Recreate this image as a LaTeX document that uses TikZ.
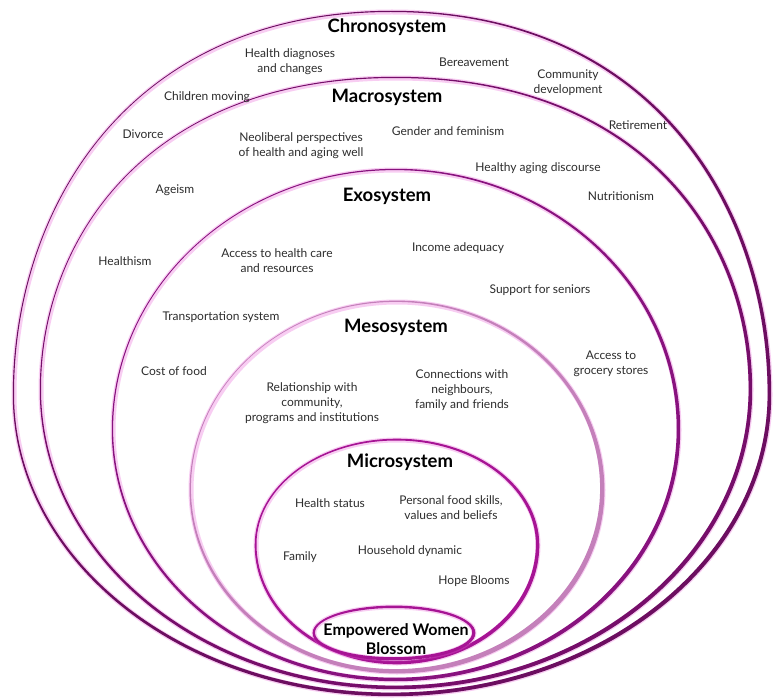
\documentclass[tikz,border=0pt]{standalone}
\usepackage{fontspec}
\setmainfont{Lato}
\definecolor{chrono}{RGB}{108,14,96}
\definecolor{macro}{RGB}{118,14,106}
\definecolor{exo}{RGB}{136,18,126}
\definecolor{meso}{RGB}{196,128,186}
\definecolor{micro}{RGB}{166,20,148}
\definecolor{glow}{RGB}{232,90,215}
\definecolor{txt}{RGB}{45,45,45}
% handle factors of the upper half (0.5523 = ellipse)
\def\ha{0.5523}\def\hb{0.5523}
% egg-shaped closed path: cx, yw (image y of widest line), rx, upper ry, lower ry
\newcommand\eggpath[5]{({#1-(#3)},{-(#2)})
  .. controls ({#1-(#3)},{-(#2)+\hb*(#4)}) and ({#1-\ha*(#3)},{-(#2)+(#4)}) .. ({#1},{-(#2)+(#4)})
  .. controls ({#1+\ha*(#3)},{-(#2)+(#4)}) and ({#1+(#3)},{-(#2)+\hb*(#4)}) .. ({#1+(#3)},{-(#2)})
  arc[start angle=0,end angle=-180,x radius={#3},y radius={#5}] -- cycle}
% ring: cx, yw, rx, ryU, ryL, colour, width, shift (thin upper-left, thick lower-right)
\newcommand\ring[8]{%
  \draw[glow, line width=5, opacity=.3] \eggpath{#1}{#2}{#3}{#4}{#5};
  \fill[#6, even odd rule] \eggpath{#1}{#2}{#3+#7/2}{#4+#7/2}{#5+#7/2}
    \eggpath{#1-#8}{#2-#8}{#3-#7/2}{#4-#7/2}{#5-#7/2};}
\tikzset{
  item/.style={text=txt, align=center, inner sep=0pt, font=\fontsize{12}{15}\selectfont},
  sysname/.style={text=black, inner sep=0pt, font=\bfseries\fontsize{18.5}{20}\selectfont},
  core/.style={text=black, align=center, inner sep=0pt, font=\bfseries\fontsize{16}{18.5}\selectfont}
}
\begin{document}
\begin{tikzpicture}[x=1pt,y=1pt]
\useasboundingbox[fill=white] (0,0) rectangle (773,-698);
% rings
\def\ha{0.7}\def\hb{0.48}
\ring{392}{395}{378}{383}{300}{chrono}{2.4}{1.2}
\ring{396}{390}{355}{312}{298}{macro}{2.4}{1.2}
\def\ha{0.5523}\def\hb{0.5523}
\ring{396}{430}{283}{260}{250}{exo}{2.4}{1.1}
\ring{397}{490}{206}{188}{182}{meso}{2.8}{1.5}
\ring{397}{545}{141}{105}{118}{micro}{2.6}{0.8}
\ring{394}{633}{80}{26}{26}{micro}{2.8}{0.4}
% system names
\node[sysname] (chr) at (387,-27) {Chronosystem};
\node[sysname] (mac) at (387,-97) {Macrosystem};
\node[sysname] (exs) at (387,-196) {Exosystem};
\node[sysname] (mes) at (396,-327) {Mesosystem};
\node[sysname] (mic) at (400,-462) {Microsystem};
\node[core] (ewb) at (396,-639) {Empowered Women\\Blossom};
% chronosystem items
\node[item] (c1) at (290,-62) {Health diagnoses\\and changes};
\node[item] (c2) at (474,-62) {Bereavement};
\node[item] (c3) at (568,-83) {Community\\development};
\node[item] (c4) at (207,-97) {Children moving};
\node[item] (c5) at (143,-134) {Divorce};
\node[item] (c6) at (638,-125) {Retirement};
% macrosystem items
\node[item] (m1) at (301,-146) {Neoliberal perspectives\\of health and aging well};
\node[item] (m2) at (448,-131) {Gender and feminism};
\node[item] (m3) at (538,-168) {Healthy aging discourse};
\node[item] (m4) at (175,-190) {Ageism};
\node[item] (m5) at (621,-196) {Nutritionism};
\node[item] (m6) at (125,-261) {Healthism};
% exosystem items
\node[item] (e1) at (277,-261) {Access to health care\\and resources};
\node[item] (e2) at (458,-248) {Income adequacy};
\node[item] (e3) at (540,-290) {Support for seniors};
\node[item] (e4) at (221,-317) {Transportation system};
\node[item] (e5) at (174,-371) {Cost of food};
\node[item] (e6) at (611,-364) {Access to\\grocery stores};
% mesosystem items
\node[item] (s1) at (312,-403) {Relationship with\\community,\\programs and institutions};
\node[item] (s2) at (462,-390) {Connections with\\neighbours,\\family and friends};
% microsystem items
\node[item] (i1) at (330,-503) {Health status};
\node[item] (i2) at (451,-508) {Personal food skills,\\values and beliefs};
\node[item] (i3) at (300,-557) {Family};
\node[item] (i4) at (410,-551) {Household dynamic};
\node[item] (i5) at (474,-581) {Hope Blooms};
\end{tikzpicture}
\end{document}
